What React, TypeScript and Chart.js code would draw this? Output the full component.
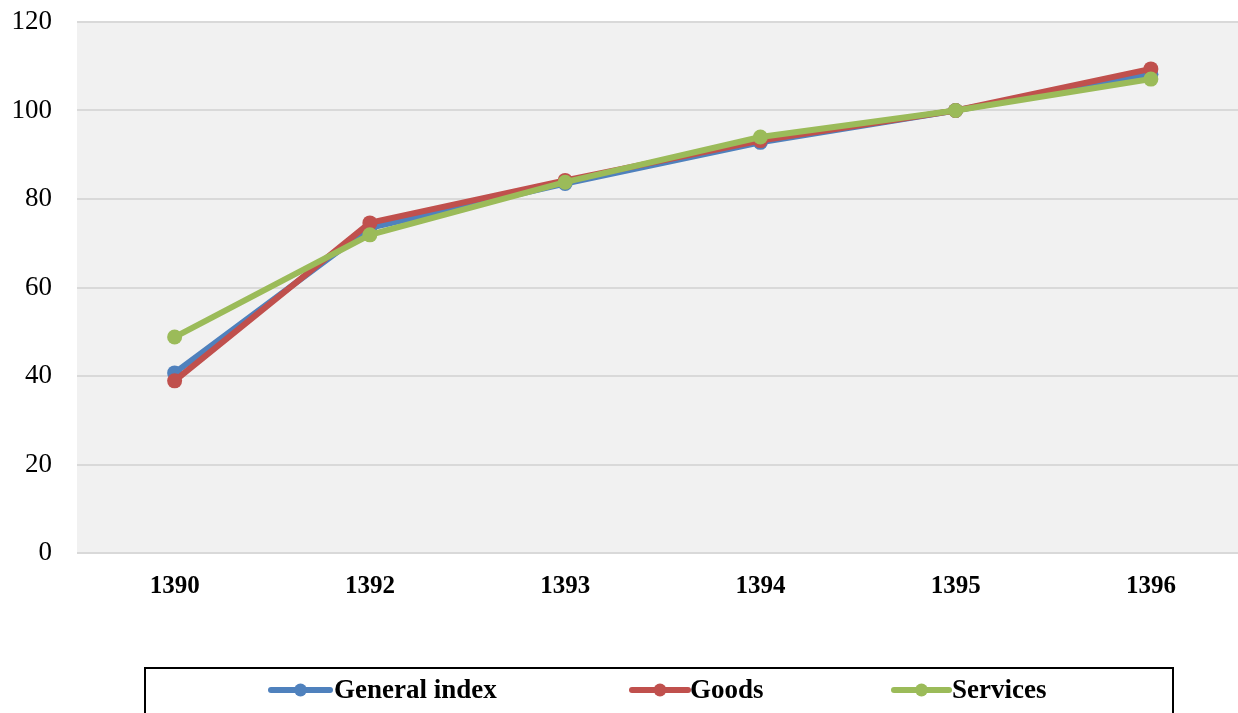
import React, { useEffect, useRef } from "react";
import { Chart, registerables } from "chart.js";

Chart.register(...registerables);

const categories = ["1390", "1392", "1393", "1394", "1395", "1396"];
const generalIndex = [40.7, 73.5, 83.5, 92.8, 100, 108.2];
const goods = [38.9, 74.6, 84.2, 93.2, 100, 109.4];
const services = [48.8, 71.9, 83.8, 94.0, 100, 107.1];
const seriesNames = ["General index", "Goods", "Services"];
const seriesColors = ["#4F81BD", "#C0504D", "#9BBB59"];
const yTicks = { min: 0, max: 120, step: 20 };

const CW = 1256;
const CH = 760;

const bgPlugin = {
  id: "plotBg",
  beforeDraw(chart: any) {
    const { ctx, chartArea } = chart;
    ctx.save();
    ctx.fillStyle = "#F1F1F1";
    ctx.fillRect(chartArea.left, chartArea.top, chartArea.right - chartArea.left, chartArea.bottom - chartArea.top);
    ctx.restore();
  },
};

const legendPlugin = {
  id: "boxLegend",
  afterDraw(chart: any) {
    const ctx = chart.ctx;
    ctx.save();
    ctx.strokeStyle = "#000";
    ctx.lineWidth = 2;
    ctx.strokeRect(145, 668, 1028, 80);
    const items = [
      { x1: 271, x2: 330, tx: 334 },
      { x1: 632, x2: 688, tx: 690 },
      { x1: 894, x2: 949, tx: 952 },
    ];
    const y = 690;
    seriesNames.forEach((name, i) => {
      const it = items[i];
      const col = seriesColors[i];
      ctx.strokeStyle = col;
      ctx.lineWidth = 6;
      ctx.lineCap = "round";
      ctx.beginPath();
      ctx.moveTo(it.x1, y);
      ctx.lineTo(it.x2, y);
      ctx.stroke();
      ctx.fillStyle = col;
      ctx.beginPath();
      ctx.arc((it.x1 + it.x2) / 2, y, 6.5, 0, Math.PI * 2);
      ctx.fill();
      ctx.fillStyle = "#000";
      ctx.font = "bold 27px 'Liberation Serif'";
      ctx.textBaseline = "middle";
      ctx.textAlign = "left";
      ctx.fillText(name, it.tx, y + 1);
    });
    ctx.restore();
  },
};

export default function App() {
  const ref = useRef<HTMLCanvasElement>(null);
  useEffect(() => {
    if (!ref.current) return;
    const orders = [2, 1, 0];
    const datasets = [generalIndex, goods, services].map((d, i) => ({
      label: seriesNames[i],
      data: d,
      order: orders[i],
      borderColor: seriesColors[i],
      backgroundColor: seriesColors[i],
      borderWidth: 6,
      pointRadius: 7.5,
      pointHoverRadius: 7.5,
      pointBorderWidth: 0,
      tension: 0,
    }));
    const chart = new Chart(ref.current, {
      type: "line",
      data: { labels: categories, datasets },
      options: {
        responsive: false,
        animation: false,
        devicePixelRatio: 1,
        layout: { padding: { top: 22, left: 0, right: 2, bottom: CH - 553 - 60 } },
        plugins: { legend: { display: false }, tooltip: { enabled: false } },
        scales: {
          x: {
            offset: true,
            grid: { display: false, drawTicks: false },
            border: { display: false },
            ticks: {
              padding: 19,
              color: "#000",
              font: { family: "'Liberation Serif'", size: 25, weight: "bold" },
            },
            afterFit(scale: any) {
              scale.height = 60;
              scale.paddingLeft = 0;
              scale.paddingRight = 0;
            },
          },
          y: {
            min: yTicks.min,
            max: yTicks.max,
            grid: { color: "#D9D9D9", lineWidth: 2, drawTicks: false },
            border: { display: false },
            ticks: {
              stepSize: yTicks.step,
              padding: 25,
              color: "#000",
              font: { family: "'Liberation Serif'", size: 27 },
            },
            afterFit(scale: any) {
              scale.width = 77;
              scale.paddingTop = 0;
              scale.paddingBottom = 0;
            },
          },
        },
      },
      plugins: [bgPlugin, legendPlugin],
    });
    return () => chart.destroy();
  }, []);
  return (
    <div style={{ position: "fixed", left: 0, top: 0, width: 1238, height: 713, overflow: "hidden", background: "#fff" }}>
      <div style={{ position: "absolute", left: 0, top: 0, width: CW, height: CH }}>
        <canvas ref={ref} width={CW} height={CH} style={{ display: "block", width: CW, height: CH }} />
      </div>
    </div>
  );
}
